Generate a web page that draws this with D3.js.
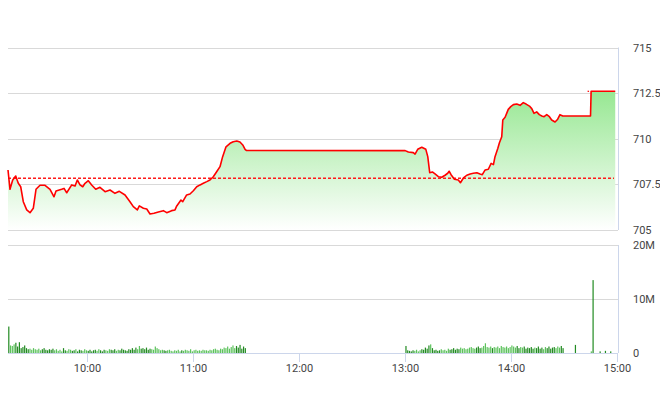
<!DOCTYPE html>
<html>
<head>
<meta charset="utf-8">
<script src="https://cdn.jsdelivr.net/npm/d3@7"></script>
<style>
html,body{margin:0;padding:0;background:#fff;}
svg{display:block;}
text{font-family:Roboto,"Open Sans",Arial,sans-serif;}
</style>
</head>
<body>
<svg id="chart" width="660" height="412"></svg>
<script>
// ---------- data ----------
const priceTimes = [
"09:15:00","09:16:08","09:17:40","09:19:22","09:20:50","09:22:12","09:23:40","09:25:36","09:27:28","09:29:20",
"09:30:52","09:33:08","09:35:58","09:38:48","09:41:04","09:42:12","09:45:24","09:46:44","09:48:16","09:51:06",
"09:53:00","09:54:16","09:55:48","09:57:20","09:58:38","10:00:30","10:02:24","10:04:42","10:07:06","10:10:00",
"10:12:48","10:15:36","10:18:04","10:21:18","10:24:06","10:26:00","10:28:16","10:29:24","10:31:42","10:33:36",
"10:35:27","10:37:42","10:40:12","10:43:00","10:44:54","10:47:42","10:49:36","10:50:36","10:53:00","10:54:00",
"10:56:12","10:58:06","11:00:00","11:01:54","11:03:48","11:05:39","11:07:36","11:09:24","11:11:18","11:13:12",
"11:15:06","11:16:36","11:18:30","11:20:48","11:22:36","11:24:36","11:26:24","11:28:00","11:29:18","11:30:00",
"13:00:00","13:01:48","13:04:36","13:05:36","13:07:06","13:09:24","13:11:42","13:12:48","13:13:54","13:15:24",
"13:16:54","13:18:48","13:20:42","13:22:36","13:24:06","13:24:54","13:26:00","13:27:54","13:30:06","13:31:18",
"13:33:00","13:34:54","13:36:48","13:38:36","13:40:36","13:42:24","13:43:42","13:45:18","13:47:06","13:48:42",
"13:50:00","13:50:54","13:52:30","13:53:24","13:54:42","13:55:18","13:56:36","13:57:30","13:58:24","13:59:48",
"14:01:18","14:03:12","14:05:06","14:06:54","14:08:30","14:10:24","14:11:42","14:13:00","14:14:30","14:16:00",
"14:17:24","14:18:42","14:20:12","14:21:42","14:23:00","14:24:54","14:26:24","14:27:42","14:29:18","14:30:00",
"14:45:00","14:45:20","14:59:00"
];
const priceValues = [
708.29,707.23,707.74,707.96,707.56,707.37,706.55,706.10,705.95,706.19,
707.23,707.45,707.45,707.23,706.82,707.14,707.23,707.28,707.04,707.47,
707.41,707.74,707.47,707.37,707.56,707.70,707.47,707.23,707.34,707.10,
707.19,707.01,707.12,706.92,706.55,706.28,706.10,706.32,706.19,706.15,
705.88,705.92,705.99,706.06,705.95,706.06,706.10,706.32,706.64,706.55,
706.92,706.97,707.15,707.37,707.47,707.56,707.65,707.74,707.92,708.19,
708.47,709.02,709.56,709.75,709.84,709.88,709.82,709.66,709.42,709.36,
709.35,709.27,709.24,709.16,709.42,709.53,709.42,709.02,708.14,708.18,
708.07,707.92,707.89,708.00,708.11,708.22,708.03,707.78,707.74,707.59,
707.85,708.00,708.07,708.11,708.14,708.07,708.03,708.29,708.33,708.65,
708.58,709.02,709.48,709.78,710.11,711.03,711.18,711.39,711.61,711.76,
711.87,711.90,711.83,711.98,711.90,711.79,711.65,711.39,711.47,711.32,
711.25,711.21,711.32,711.21,711.03,710.92,711.07,711.32,711.25,711.25,
711.25,712.60,712.60
];
const prevClose = 707.83;
const atcMarkTimes = ["14:43:20","14:44:40"];
const atcMarkValue = 712.60;

// volume (millions) per minute
const volMorningStart = "09:15";
const volMorning = [
4.9,1.4,1.3,1.6,1.9,1.2,2.0,0.9,1.1,1.4,
0.9,0.7,0.8,0.6,0.9,0.7,0.6,0.8,0.5,0.7,
0.9,0.6,0.5,0.7,0.6,0.8,0.5,0.7,0.4,0.6,
0.3,0.9,0.5,0.4,0.7,0.6,0.4,0.5,0.7,0.3,
0.6,0.5,0.4,0.7,0.5,0.4,0.6,0.3,0.5,0.6,
0.4,0.7,0.5,0.3,0.6,0.5,0.4,0.7,0.6,0.5,
0.7,0.4,0.6,0.5,0.8,0.6,0.5,0.4,0.7,0.6,
0.9,0.6,1.0,0.7,1.3,0.8,0.9,0.7,1.0,0.6,
0.8,0.7,0.6,1.2,0.9,0.7,0.5,0.6,0.5,0.4,
0.5,0.6,0.4,0.3,0.5,0.4,0.6,0.3,0.5,0.4,
0.6,0.5,0.4,0.7,0.3,0.5,0.6,0.4,0.5,0.4,
0.6,0.5,0.5,0.4,0.6,0.5,0.7,0.8,0.6,0.5,
0.8,0.7,1.0,0.9,1.2,0.8,1.1,1.4,0.9,1.3,
1.0,1.5,0.8,1.2,0.9
];
const volAfternoonStart = "13:00";
const volAfternoon = [
1.3,0.5,0.4,0.3,0.5,0.4,0.6,0.3,0.5,0.7,
0.6,1.0,0.8,1.4,1.6,0.9,0.5,0.6,0.4,0.5,
0.7,0.5,0.6,0.4,0.8,0.6,0.7,0.9,0.6,0.8,
0.7,1.0,0.8,0.9,0.7,0.8,1.0,1.1,0.9,0.8,
1.0,1.2,0.9,1.0,1.3,1.8,1.1,1.0,1.2,0.9,
1.1,1.0,1.2,0.9,1.3,1.1,1.0,1.2,0.9,1.1,
1.4,1.2,1.0,1.3,0.9,1.1,1.0,1.2,0.8,1.0,
0.9,1.1,0.8,1.0,0.9,1.2,0.8,1.0,0.7,1.1,
0.9,1.2,0.8,1.0,1.1,0.9,1.2,1.0,1.3,0.9
];
const volLateTimes = ["14:36","14:45","14:46","14:50","14:53","14:56"];
const volLateValues = [1.5,0.3,13.5,0.3,0.4,0.3];

const priceTicks = [705, 707.5, 710, 712.5, 715];
const priceTickLabels = ["705","707.5","710","712.5","715"];
const volTicks = [0, 10, 20];
const volTickLabels = ["0","10M","20M"];
const timeTicks = ["10:00","11:00","12:00","13:00","14:00","15:00"];

// ---------- setup ----------
const svg = d3.select("#chart");
const parseS = d3.timeParse("%H:%M:%S");
const parseM = d3.timeParse("%H:%M");

const left = 8, right = 618;
const x = d3.scaleTime().domain([parseM("09:15"), parseM("15:00")]).range([left, 617]);
const yP = d3.scaleLinear().domain([705, 715]).range([230, 47.5]);
const yV = d3.scaleLinear().domain([0, 20]).range([353, 245]);

const pts = priceTimes.map((t, i) => ({t: parseS(t), v: priceValues[i]}));

// gradient
const defs = svg.append("defs");
const grad = defs.append("linearGradient").attr("id", "gfill")
  .attr("gradientUnits", "userSpaceOnUse").attr("x1", 0).attr("x2", 0)
  .attr("y1", yP(715)).attr("y2", yP(705));
grad.append("stop").attr("offset", "0%").attr("stop-color", "#76e070");
grad.append("stop").attr("offset", "100%").attr("stop-color", "#ffffff");

// grid - price panel
svg.append("g").selectAll("line").data(priceTicks).join("line")
  .attr("x1", left).attr("x2", right)
  .attr("y1", d => Math.round(yP(d)) + 0.5).attr("y2", d => Math.round(yP(d)) + 0.5)
  .attr("stroke", "#d9d9d9").attr("stroke-width", 1);

// grid - volume panel
svg.append("g").selectAll("line").data(volTicks.filter(d => d > 0)).join("line")
  .attr("x1", left).attr("x2", right)
  .attr("y1", d => Math.round(yV(d)) + 0.5).attr("y2", d => Math.round(yV(d)) + 0.5)
  .attr("stroke", "#d9d9d9").attr("stroke-width", 1);

// right borders
svg.append("line").attr("x1", right + 0.5).attr("x2", right + 0.5)
  .attr("y1", yP(715)).attr("y2", yP(705)).attr("stroke", "#ccd6eb");
svg.append("line").attr("x1", right + 0.5).attr("x2", right + 0.5)
  .attr("y1", yV(20)).attr("y2", yV(0)).attr("stroke", "#ccd6eb");

// area + line
const area = d3.area().x(d => x(d.t)).y0(yP(705)).y1(d => yP(d.v));
svg.append("path").datum(pts).attr("d", area).attr("fill", "url(#gfill)");

// prev close dashed
svg.append("line").attr("x1", left).attr("x2", 614)
  .attr("y1", yP(prevClose)).attr("y2", yP(prevClose))
  .attr("stroke", "#ff1a1a").attr("stroke-width", 1.5).attr("stroke-dasharray", "3,2");

const line = d3.line().x(d => x(d.t)).y(d => yP(d.v));
svg.append("path").datum(pts).attr("d", line)
  .attr("fill", "none").attr("stroke", "#ff0000").attr("stroke-width", 1.6)
  .attr("stroke-linejoin", "round");

svg.append("line")
  .attr("x1", x(parseS(atcMarkTimes[0]))).attr("x2", x(parseS(atcMarkTimes[1])))
  .attr("y1", yP(atcMarkValue)).attr("y2", yP(atcMarkValue))
  .attr("stroke", "#ff0000").attr("stroke-width", 1.2).attr("stroke-dasharray", "1.5,1");

// volume bars
const priceAt = d3.scaleLinear().domain(pts.map(d => +d.t)).range(pts.map(d => d.v)).clamp(true);
const bars = [];
const addRun = (start, arr) => {
  const s = parseM(start);
  arr.forEach((v, i) => bars.push({t: new Date(+s + i * 60000), v}));
};
addRun(volMorningStart, volMorning);
addRun(volAfternoonStart, volAfternoon);
volLateTimes.forEach((t, i) => bars.push({t: parseM(t), v: volLateValues[i]}));

svg.append("g").selectAll("rect").data(bars).join("rect")
  .attr("x", d => x(d.t) + 0.2)
  .attr("width", 1.2)
  .attr("y", d => yV(d.v))
  .attr("height", d => yV(0) - yV(d.v))
  .attr("fill", d => {
    const a = priceAt(+d.t), b = priceAt(+d.t + 60000);
    return b > a ? "#5cc25c" : "#228b22";
  });

// x axis baseline + ticks
svg.append("line").attr("x1", left).attr("x2", right)
  .attr("y1", yV(0) + 0.5).attr("y2", yV(0) + 0.5).attr("stroke", "#ccd6eb");
const xt = svg.append("g").selectAll("g").data(timeTicks).join("g")
  .attr("transform", d => `translate(${Math.round(x(parseM(d))) + 0.5},0)`);
xt.append("line").attr("y1", yV(0)).attr("y2", yV(0) + 9).attr("stroke", "#ccd6eb");
xt.append("text").attr("y", 372).attr("text-anchor", "middle")
  .attr("font-size", 11).attr("fill", "#444").text(d => d);

// y labels
svg.append("g").selectAll("text").data(priceTicks).join("text")
  .attr("x", 633).attr("y", d => yP(d) + 4)
  .attr("font-size", 11).attr("fill", "#444")
  .text((d, i) => priceTickLabels[i]);
svg.append("g").selectAll("text").data(volTicks).join("text")
  .attr("x", 633).attr("y", d => yV(d) + 4)
  .attr("font-size", 11).attr("fill", "#444")
  .text((d, i) => volTickLabels[i]);
</script>
</body>
</html>
